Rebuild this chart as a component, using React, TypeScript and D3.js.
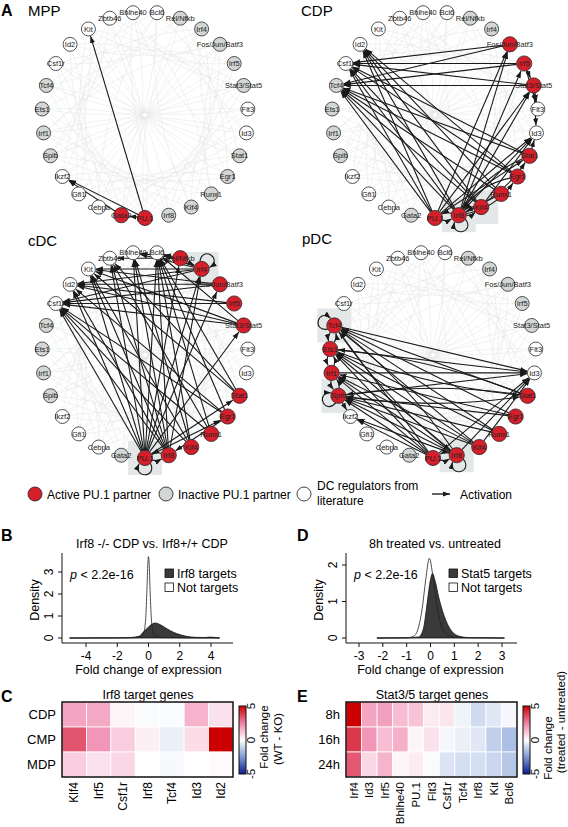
import React from "react";
import * as d3 from "d3";

const FONT = "'Liberation Sans', Arial, Helvetica, sans-serif";

// ---------- Panel A: network data ----------
const NODES = ["Bhlhe40", "Bcl6", "Rel/Nfkb", "Irf4", "Fos/Jun/Batf3", "Irf5", "Stat3/Stat5", "Flt3", "Id3", "Stat1", "Egr1", "Runx1", "Klf4", "Irf8", "PU.1", "Gata2", "Cebpa", "Gfi1", "Ikzf2", "Spib", "Irf1", "Ets1", "Tcf4", "Csf1r", "Id2", "Kit", "Zbtb46"];
const PARTNERS = ["Rel/Nfkb", "Irf4", "Fos/Jun/Batf3", "Irf5", "Stat3/Stat5", "Stat1", "Egr1", "Runx1", "Klf4", "Irf8", "PU.1", "Gata2", "Spib", "Irf1", "Ets1", "Tcf4"];

const MPP_ACTIVE = ["Gata2", "PU.1"];
const CDP_ACTIVE = ["Fos/Jun/Batf3", "Irf5", "Stat3/Stat5", "Stat1", "Egr1", "Runx1", "Klf4", "Irf8", "PU.1"];
const CDC_ACTIVE = ["Rel/Nfkb", "Irf4", "Fos/Jun/Batf3", "Irf5", "Stat3/Stat5", "Stat1", "Egr1", "Runx1", "Klf4", "Irf8", "PU.1"];
const PDC_ACTIVE = ["Tcf4", "Ets1", "Irf1", "Spib", "Stat1", "Egr1", "Runx1", "Klf4", "Irf8", "PU.1"];

const MPP_EDGES: [string, string][] = [["PU.1", "Kit"], ["PU.1", "Ikzf2"], ["Gata2", "Ikzf2"], ["PU.1", "Gata2"]];
const CDP_EDGES: [string, string][] = [
  ["Fos/Jun/Batf3", "Csf1r"], ["Fos/Jun/Batf3", "Tcf4"],
  ["Irf5", "Csf1r"], ["Irf5", "Tcf4"], ["Irf5", "Stat3/Stat5"], ["Irf5", "Flt3"],
  ["Stat3/Stat5", "Tcf4"], ["Stat3/Stat5", "Csf1r"], ["Stat3/Stat5", "Flt3"], ["Stat3/Stat5", "Id3"],
  ["Stat1", "Tcf4"], ["Stat1", "Csf1r"], ["Stat1", "Id3"], ["Stat1", "Irf8"],
  ["Egr1", "Tcf4"], ["Egr1", "Id2"], ["Egr1", "Csf1r"], ["Egr1", "Irf8"],
  ["Runx1", "Id2"], ["Runx1", "Tcf4"], ["Runx1", "Irf8"],
  ["Klf4", "Id2"], ["Klf4", "Csf1r"], ["Klf4", "Tcf4"], ["Klf4", "Id3"], ["Klf4", "Irf8"],
  ["Irf8", "Id2"], ["Irf8", "Csf1r"], ["Irf8", "Tcf4"], ["Irf8", "Fos/Jun/Batf3"], ["Irf8", "Irf5"], ["Irf8", "Stat3/Stat5"], ["Irf8", "Id3"], ["Irf8", "Stat1"], ["Irf8", "Egr1"], ["Irf8", "PU.1"], ["Irf8", "Klf4"],
  ["PU.1", "Id2"], ["PU.1", "Csf1r"], ["PU.1", "Tcf4"], ["PU.1", "Irf8"], ["PU.1", "Fos/Jun/Batf3"], ["PU.1", "Stat3/Stat5"], ["PU.1", "Stat1"], ["PU.1", "Id3"],
];
const CDC_EDGES: [string, string][] = [
  ["PU.1", "Bhlhe40"], ["PU.1", "Bcl6"], ["PU.1", "Zbtb46"], ["PU.1", "Kit"], ["PU.1", "Id2"], ["PU.1", "Csf1r"], ["PU.1", "Rel/Nfkb"], ["PU.1", "Irf4"], ["PU.1", "Fos/Jun/Batf3"], ["PU.1", "Stat3/Stat5"], ["PU.1", "Stat1"], ["PU.1", "Irf8"], ["PU.1", "Egr1"],
  ["Irf8", "Bhlhe40"], ["Irf8", "Bcl6"], ["Irf8", "Zbtb46"], ["Irf8", "Kit"], ["Irf8", "Id2"], ["Irf8", "Csf1r"], ["Irf8", "Irf4"], ["Irf8", "PU.1"],
  ["Klf4", "Bcl6"], ["Klf4", "Bhlhe40"], ["Klf4", "Kit"], ["Klf4", "Csf1r"],
  ["Runx1", "Bcl6"], ["Runx1", "Zbtb46"], ["Runx1", "Csf1r"],
  ["Egr1", "Bcl6"], ["Egr1", "Id2"], ["Egr1", "Csf1r"], ["Egr1", "Irf8"],
  ["Stat1", "Bcl6"], ["Stat1", "Kit"], ["Stat1", "Zbtb46"],
  ["Stat3/Stat5", "Csf1r"], ["Stat3/Stat5", "Id2"], ["Stat3/Stat5", "Kit"], ["Stat3/Stat5", "Bcl6"],
  ["Irf5", "Csf1r"], ["Irf5", "Id2"],
  ["Fos/Jun/Batf3", "Id2"], ["Fos/Jun/Batf3", "Kit"], ["Fos/Jun/Batf3", "Csf1r"],
  ["Irf4", "Kit"], ["Irf4", "Id2"], ["Irf4", "Bhlhe40"], ["Irf4", "Bcl6"], ["Irf4", "Csf1r"],
  ["Rel/Nfkb", "Bcl6"], ["Rel/Nfkb", "Bhlhe40"], ["Rel/Nfkb", "Zbtb46"], ["Rel/Nfkb", "Irf4"],
];
const PDC_EDGES: [string, string][] = [
  ["PU.1", "Tcf4"], ["PU.1", "Ets1"], ["PU.1", "Irf1"], ["PU.1", "Spib"], ["PU.1", "Ikzf2"], ["PU.1", "Id3"], ["PU.1", "Irf8"],
  ["Irf8", "Tcf4"], ["Irf8", "Ets1"], ["Irf8", "Irf1"], ["Irf8", "Spib"], ["Irf8", "Ikzf2"], ["Irf8", "Id3"], ["Irf8", "PU.1"],
  ["Klf4", "Tcf4"], ["Klf4", "Ets1"], ["Klf4", "Spib"], ["Klf4", "Id3"], ["Klf4", "Irf1"],
  ["Runx1", "Tcf4"], ["Runx1", "Ets1"], ["Runx1", "Spib"],
  ["Egr1", "Tcf4"], ["Egr1", "Spib"], ["Egr1", "Irf1"],
  ["Stat1", "Tcf4"], ["Stat1", "Ets1"], ["Stat1", "Spib"],
  ["Tcf4", "Id3"], ["Tcf4", "Ets1"], ["Tcf4", "Irf8"],
  ["Ets1", "Id3"], ["Ets1", "Irf1"], ["Ets1", "Tcf4"], ["Ets1", "Stat1"],
  ["Irf1", "Id3"], ["Irf1", "Spib"], ["Irf1", "Ets1"],
  ["Spib", "Id3"], ["Spib", "Irf1"], ["Spib", "Stat1"], ["Spib", "Ikzf2"],
];
const MPP_LOOPS: string[] = [];
const CDP_LOOPS = ["Irf8"];
const CDC_LOOPS = ["Irf4", "PU.1"];
const PDC_LOOPS = ["Tcf4", "Spib", "Irf8"];
const MPP_BOXES: string[] = [];
const CDP_BOXES = ["Irf8", "Klf4"];
const CDC_BOXES = ["Irf4", "PU.1"];
const PDC_BOXES = ["Tcf4", "Spib", "Irf8"];

// background (inactive literature) links, by node index
const BG_EDGES: [number, number][] = [
  [0, 13], [0, 9], [0, 18], [1, 12], [1, 16], [1, 21], [2, 14], [2, 8], [2, 19], [3, 15], [3, 10], [3, 22],
  [4, 16], [4, 11], [4, 20], [5, 17], [5, 12], [5, 23], [6, 18], [6, 13], [6, 24], [7, 19], [7, 14], [7, 25],
  [8, 20], [8, 15], [8, 26], [9, 21], [9, 16], [9, 1], [10, 22], [10, 17], [10, 2], [11, 23], [11, 18], [11, 0],
  [12, 24], [12, 19], [12, 3], [13, 25], [13, 20], [13, 4], [14, 26], [14, 21], [14, 5], [15, 0], [15, 22], [15, 6],
  [16, 1], [16, 23], [16, 7], [17, 2], [17, 24], [17, 8], [18, 3], [18, 25], [18, 9], [19, 4], [19, 26], [19, 10],
  [20, 5], [20, 0], [20, 11], [21, 6], [21, 1], [21, 12], [22, 7], [22, 2], [22, 13], [23, 8], [23, 3], [23, 14],
  [24, 9], [24, 4], [24, 15], [25, 10], [25, 5], [25, 16], [26, 11], [26, 6], [26, 17],
];

// ---------- Panels B / D: density data (x, density) ----------
const B_X_TICKS = [-4, -2, 0, 2, 4];
const B_Y_TICKS = [0, 1, 2, 3];
const B_TARGETS: [number, number][] = [[-5.05, 0], [-2, 0.005], [-1.2, 0.02], [-0.6, 0.08], [-0.3, 0.3], [0, 0.5], [0.2, 0.62], [0.45, 0.68], [0.7, 0.62], [1, 0.5], [1.4, 0.33], [1.8, 0.2], [2.4, 0.08], [3, 0.03], [3.6, 0.02], [3.9, 0.04], [4.55, 0]];
const B_NOT: [number, number][] = [[-5.05, 0], [-1, 0.01], [-0.5, 0.05], [-0.3, 0.25], [-0.18, 0.9], [-0.1, 2.2], [-0.04, 3.4], [0, 3.7], [0.04, 3.4], [0.1, 2.2], [0.18, 0.9], [0.3, 0.25], [0.5, 0.06], [1, 0.02], [4.55, 0]];

const D_X_TICKS = [-3, -2, -1, 0, 1, 2, 3];
const D_Y_TICKS = [0, 1, 2];
const D_TARGETS: [number, number][] = [[-2.25, 0], [-1, 0.005], [-0.5, 0.03], [-0.3, 0.25], [-0.15, 0.9], [0, 1.6], [0.08, 1.77], [0.2, 1.55], [0.35, 1.1], [0.5, 0.75], [0.7, 0.4], [0.9, 0.18], [1.2, 0.05], [1.6, 0.01], [3.1, 0]];
const D_NOT: [number, number][] = [[-2.25, 0], [-1, 0.005], [-0.7, 0.05], [-0.5, 0.3], [-0.35, 0.8], [-0.2, 1.6], [-0.05, 2.18], [0.1, 1.7], [0.25, 0.95], [0.4, 0.45], [0.6, 0.15], [0.85, 0.04], [1.2, 0.01], [3.1, 0]];

// ---------- Panels C / E: heatmaps ----------
const C_ROWS = ["CDP", "CMP", "MDP"];
const C_COLS = ["Klf4", "Irf5", "Csf1r", "Irf8", "Tcf4", "Id3", "Id2"];
const C_VALUES = [
  [1.8, 1.7, 0.2, -0.1, -0.1, 1.5, 0.6],
  [3.4, 2.1, 1.0, 0.3, -0.4, 0.7, 5.0],
  [1.0, 0.6, 0.8, 0.0, -0.15, 0.0, 0.1],
];
const E_ROWS = ["8h", "16h", "24h"];
const E_COLS = ["Irf4", "Id3", "Irf5", "Bhlhe40", "PU.1", "Flt3", "Csf1r", "Tcf4", "Irf8", "Kit", "Bcl6"];
const E_VALUES = [
  [5.0, 1.8, 1.9, 1.3, 1.2, 0.4, 0.5, -0.3, -0.9, -0.6, -0.2],
  [3.9, 2.1, 1.3, 1.6, 0.2, 0.6, -0.2, -0.4, -0.6, -1.2, -1.6],
  [3.3, 0.8, 1.5, 0.2, 0.4, -0.1, -0.7, -0.8, -0.8, -1.0, -1.4],
];
const CB_TICKS = [5, 0, -5];

const heatColor = d3.scaleLinear<string>()
  .domain([-5, -2.5, 0, 2.5, 5])
  .range(["#0b1a8c", "#7d9bd6", "#ffffff", "#ef82aa", "#cc0000"]);

const RED = "#d71f2b";
const GREY = "#d2d6d5";
const R = 103;

const angle = d3.scaleLinear().domain([0, NODES.length]).range([-Math.PI / NODES.length, 2 * Math.PI - Math.PI / NODES.length]);

function Network({ cx, cy, title, titleX, titleY, active, edges, loops, boxes, letter }: any) {
  const pos = (name: string): [number, number] => {
    const a = angle(NODES.indexOf(name));
    return [cx + R * Math.sin(a), cy - R * Math.cos(a)];
  };
  const rad = (name: string) => (active.includes(name) ? 7.6 : 7);
  const edgeSet = new Set(edges.map((e: [string, string]) => e[0] + "|" + e[1]));

  const bgPaths = BG_EDGES.map(([i, j], k) => {
    const [x1, y1] = pos(NODES[i]);
    const [x2, y2] = pos(NODES[j]);
    const dx = x2 - x1, dy = y2 - y1;
    const d = Math.hypot(dx, dy);
    const qx = (x1 + x2) / 2 - (dy / d) * d * 0.15, qy = (y1 + y2) / 2 + (dx / d) * d * 0.15;
    return <path key={"bg" + k} d={`M${x1},${y1}Q${qx},${qy} ${x2},${y2}`} fill="none" stroke="#e5e8e8" strokeWidth={0.55} />;
  });

  const darkPaths = edges.map(([s, t]: [string, string], k: number) => {
    const [x1, y1] = pos(s);
    const [x2, y2] = pos(t);
    const dx = x2 - x1, dy = y2 - y1;
    const d = Math.hypot(dx, dy);
    const ux = dx / d, uy = dy / d;
    const rs = rad(s), rt = rad(t) + 0.5;
    if (edgeSet.has(t + "|" + s)) {
      const k2 = Math.min(0.2 * d, 14);
      const qx = (x1 + x2) / 2 - uy * k2, qy = (y1 + y2) / 2 + ux * k2;
      const a1 = Math.atan2(qy - y1, qx - x1), a2 = Math.atan2(qy - y2, qx - x2);
      const sx = x1 + rs * Math.cos(a1), sy = y1 + rs * Math.sin(a1);
      const ex = x2 + rt * Math.cos(a2), ey = y2 + rt * Math.sin(a2);
      return <path key={"e" + k} d={`M${sx},${sy}Q${qx},${qy} ${ex},${ey}`} fill="none" stroke="#1a1a1a" strokeWidth={1.1} markerEnd="url(#arrowhead)" />;
    }
    return <path key={"e" + k} d={`M${x1 + ux * rs},${y1 + uy * rs}L${x2 - ux * rt},${y2 - uy * rt}`} fill="none" stroke="#1a1a1a" strokeWidth={1.1} markerEnd="url(#arrowhead)" />;
  });

  const loopPaths = loops.map((n: string, k: number) => {
    const [x, y] = pos(n);
    const ox = (x - cx) / R, oy = (y - cy) / R;
    const rot = (a: number): [number, number] => [ox * Math.cos(a) - oy * Math.sin(a), ox * Math.sin(a) + oy * Math.cos(a)];
    const r = rad(n);
    const s = rot(-0.8), e = rot(0.8), c1 = rot(-0.55), c2 = rot(0.55);
    const L = 24;
    return <path key={"l" + k} d={`M${x + s[0] * r},${y + s[1] * r}C${x + c1[0] * L},${y + c1[1] * L} ${x + c2[0] * L},${y + c2[1] * L} ${x + e[0] * (r + 0.5)},${y + e[1] * (r + 0.5)}`} fill="none" stroke="#1a1a1a" strokeWidth={1.1} markerEnd="url(#arrowhead)" />;
  });

  return (
    <g>
      {letter && <text x={1} y={titleY} fontFamily={FONT} fontSize={16} fontWeight="bold">{letter}</text>}
      <text x={titleX} y={titleY} fontFamily={FONT} fontSize={15}>{title}</text>
      {boxes.map((n: string) => {
        const [x, y] = pos(n);
        return <rect key={"b" + n} x={x - 17} y={y - 17} width={34} height={34} fill="#e4e7e7" />;
      })}
      {bgPaths}
      {darkPaths}
      {loopPaths}
      {NODES.map((n) => {
        const [x, y] = pos(n);
        const fill = active.includes(n) ? RED : PARTNERS.includes(n) ? GREY : "#ffffff";
        return <circle key={"n" + n} cx={x} cy={y} r={rad(n)} fill={fill} stroke="#2a2a2a" strokeWidth={0.8} />;
      })}
      {NODES.map((n) => {
        const [x, y] = pos(n);
        return <text key={"t" + n} x={x} y={y} dy="0.35em" textAnchor="middle" fontFamily={FONT} fontSize={7.5} fill="#222">{n}</text>;
      })}
    </g>
  );
}

function Density({ letter, letterX, title, titleX, ox, xDomain, xRange, yDomain, yRange, xTicks, yTicks, targets, nots, targetLabel }: any) {
  const x = d3.scaleLinear().domain(xDomain).range(xRange);
  const y = d3.scaleLinear().domain(yDomain).range(yRange);
  const area = d3.area<[number, number]>().x((d) => x(d[0])).y0(y(0)).y1((d) => y(d[1])).curve(d3.curveMonotoneX);
  const line = d3.line<[number, number]>().x((d) => x(d[0])).y((d) => y(d[1])).curve(d3.curveMonotoneX);
  const axisY = 643;
  return (
    <g fontFamily={FONT}>
      <text x={letterX} y={541} fontSize={16} fontWeight="bold">{letter}</text>
      <text x={titleX} y={548} fontSize={12.5} textAnchor="middle">{title}</text>
      <path d={area(nots) || ""} fill="#ffffff" />
      <path d={area(targets) || ""} fill="#3a3a3a" stroke="#111" strokeWidth={0.8} />
      <path d={line(nots) || ""} fill="none" stroke="#222" strokeWidth={0.8} />
      <line x1={ox} x2={ox} y1={553} y2={axisY} stroke="#111" strokeWidth={1} />
      <line x1={ox} x2={ox + 171} y1={axisY} y2={axisY} stroke="#111" strokeWidth={1} />
      {yTicks.map((t: number) => (
        <g key={"yt" + t}>
          <line x1={ox - 4} x2={ox} y1={y(t)} y2={y(t)} stroke="#111" />
          <text transform={`translate(${ox - 9},${y(t)}) rotate(-90)`} textAnchor="middle" fontSize={12}>{t}</text>
        </g>
      ))}
      {xTicks.map((t: number) => (
        <g key={"xt" + t}>
          <line x1={x(t)} x2={x(t)} y1={axisY} y2={axisY + 4} stroke="#111" />
          <text x={x(t)} y={660} textAnchor="middle" fontSize={12}>{t}</text>
        </g>
      ))}
      <text transform={`translate(${ox - 23},600) rotate(-90)`} textAnchor="middle" fontSize={12.5}>Density</text>
      <text x={(xRange[0] + xRange[1]) / 2} y={674} textAnchor="middle" fontSize={12.5}>Fold change of expression</text>
      <text x={ox + 8} y={579} fontSize={12.5}><tspan fontStyle="italic">p</tspan> &lt; 2.2e-16</text>
      <rect x={ox + 103} y={569} width={8.5} height={8.5} fill="#3a3a3a" stroke="#111" strokeWidth={0.8} />
      <text x={ox + 115} y={578} fontSize={12.5}>{targetLabel}</text>
      <rect x={ox + 103} y={583} width={8.5} height={8.5} fill="#fff" stroke="#111" strokeWidth={0.8} />
      <text x={ox + 115} y={592} fontSize={12.5}>Not targets</text>
    </g>
  );
}

function Heatmap({ letter, letterX, title, x0, rows, cols, values, cbX, cbLines, cbLineYs, cbLineXs, gradId, colFont }: any) {
  const x = d3.scaleBand().domain(cols).range([x0, x0 + 171]);
  const y = d3.scaleBand().domain(rows).range([702, 777]);
  const cb = d3.scaleLinear().domain([-5, 5]).range([774, 706]);
  const stops = d3.range(0, 11).map((i) => i / 10);
  return (
    <g fontFamily={FONT}>
      <defs>
        <linearGradient id={gradId} x1="0" y1="1" x2="0" y2="0">
          {stops.map((s) => <stop key={s} offset={s} stopColor={heatColor(-5 + 10 * s)} />)}
        </linearGradient>
      </defs>
      <text x={letterX} y={702} fontSize={16} fontWeight="bold">{letter}</text>
      <text x={x0 + 86} y={699} textAnchor="middle" fontSize={12.5}>{title}</text>
      {rows.map((r: string, i: number) => cols.map((c: string, j: number) => (
        <rect key={r + c} x={x(c)} y={y(r)} width={x.bandwidth()} height={y.bandwidth()} fill={heatColor(values[i][j])} stroke="#ffffff" strokeWidth={0.8} />
      )))}
      <rect x={x0} y={702} width={171} height={75} fill="none" stroke="#111" strokeWidth={1.5} />
      {rows.map((r: string) => (
        <text key={"r" + r} x={x0 - 6} y={(y(r) as number) + y.bandwidth() / 2} dy="0.35em" textAnchor="end" fontSize={13}>{r}</text>
      ))}
      {cols.map((c: string) => (
        <text key={"c" + c} transform={`translate(${(x(c) as number) + x.bandwidth() / 2},782) rotate(-90)`} dy="0.35em" textAnchor="end" fontSize={colFont}>{c}</text>
      ))}
      <rect x={cbX} y={706} width={7} height={68} fill={`url(#${gradId})`} stroke="#111" strokeWidth={1} />
      {CB_TICKS.map((t) => (
        <text key={"cb" + t} transform={`translate(${cbX + 12},${cb(t)}) rotate(-90)`} dy="0.35em" textAnchor="middle" fontSize={11.5}>{t}</text>
      ))}
      {cbLines.map((l: string, i: number) => (
        <text key={"cl" + i} transform={`translate(${cbLineXs[i]},${cbLineYs[i]}) rotate(-90)`} dy="0.35em" textAnchor="middle" fontSize={11.5}>{l}</text>
      ))}
    </g>
  );
}

export default function App() {
  return (
    <svg width={568} height={827} style={{ position: "absolute", left: 0, top: 0, background: "#fff" }}>
      <defs>
        <marker id="arrowhead" viewBox="0 -3 7 6" refX={7} refY={0} markerWidth={7} markerHeight={6} markerUnits="userSpaceOnUse" orient="auto">
          <path d="M0,-2.6L7,0L0,2.6Z" fill="#1a1a1a" />
        </marker>
      </defs>
      <Network letter="A" cx={145} cy={115} title="MPP" titleX={28} titleY={16} active={MPP_ACTIVE} edges={MPP_EDGES} loops={MPP_LOOPS} boxes={MPP_BOXES} />
      <Network cx={435} cy={115} title="CDP" titleX={301} titleY={16} active={CDP_ACTIVE} edges={CDP_EDGES} loops={CDP_LOOPS} boxes={CDP_BOXES} />
      <Network cx={145} cy={355} title="cDC" titleX={28} titleY={246} active={CDC_ACTIVE} edges={CDC_EDGES} loops={CDC_LOOPS} boxes={CDC_BOXES} />
      <Network cx={433} cy={355} title="pDC" titleX={302} titleY={244} active={PDC_ACTIVE} edges={PDC_EDGES} loops={PDC_LOOPS} boxes={PDC_BOXES} />

      {/* legend */}
      <g fontFamily={FONT} fontSize={12}>
        <circle cx={35} cy={494} r={7} fill={RED} stroke="#2a2a2a" strokeWidth={0.9} />
        <text x={47} y={498.5}>Active PU.1 partner</text>
        <circle cx={166} cy={494} r={7} fill={GREY} stroke="#2a2a2a" strokeWidth={0.9} />
        <text x={178} y={498.5}>Inactive PU.1 partner</text>
        <circle cx={304} cy={494} r={7} fill="#fff" stroke="#2a2a2a" strokeWidth={0.9} />
        <text x={317} y={490}>DC regulators from</text>
        <text x={317} y={505}>literature</text>
        <line x1={432} x2={450} y1={494} y2={494} stroke="#111" strokeWidth={1.3} markerEnd="url(#arrowhead)" />
        <text x={460} y={498.5}>Activation</text>
      </g>

      <Density letter="B" letterX={1} title="Irf8 -/- CDP vs. Irf8+/+ CDP" titleX={152} ox={62} xDomain={[-4, 4]} xRange={[86, 211]} yDomain={[0, 3]} yRange={[638, 572]} xTicks={B_X_TICKS} yTicks={B_Y_TICKS} targets={B_TARGETS} nots={B_NOT} targetLabel="Irf8 targets" />
      <Density letter="D" letterX={297} title="8h treated vs. untreated" titleX={435} ox={346} xDomain={[-3, 3]} xRange={[359, 502]} yDomain={[0, 2]} yRange={[638, 565]} xTicks={D_X_TICKS} yTicks={D_Y_TICKS} targets={D_TARGETS} nots={D_NOT} targetLabel="Stat5 targets" />

      <Heatmap letter="C" letterX={1} title="Irf8 target genes" x0={62} rows={C_ROWS} cols={C_COLS} values={C_VALUES} cbX={239} cbLines={["Fold change", "(WT - KO)"]} cbLineYs={[737, 739]} cbLineXs={[264, 278]} gradId="gradC" colFont={12} />
      <Heatmap letter="E" letterX={297} title="Stat3/5 target genes" x0={346} rows={E_ROWS} cols={E_COLS} values={E_VALUES} cbX={523} cbLines={["Fold change", "(treated - untreated)"]} cbLineYs={[748, 722]} cbLineXs={[548, 561]} gradId="gradE" colFont={11.5} />
    </svg>
  );
}
